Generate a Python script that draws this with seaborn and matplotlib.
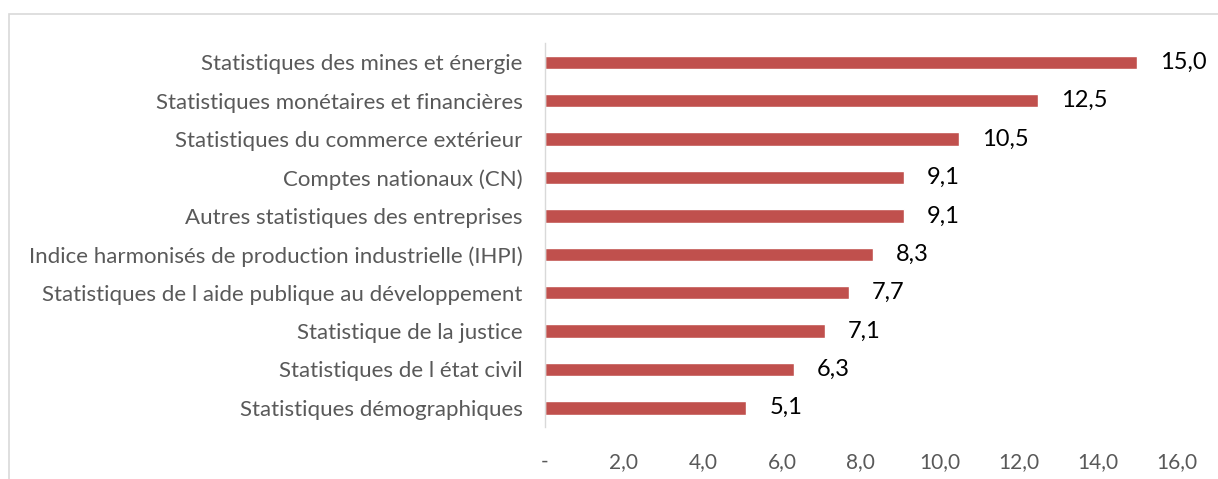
import matplotlib
matplotlib.use("Agg")
import matplotlib.pyplot as plt
import seaborn as sns
import pandas as pd
from matplotlib.patches import Rectangle

categories = [
    "Statistiques des mines et énergie",
    "Statistiques monétaires et financières",
    "Statistiques du commerce extérieur",
    "Comptes nationaux (CN)",
    "Autres statistiques des entreprises",
    "Indice harmonisés de production industrielle (IHPI)",
    "Statistiques de l aide publique au développement",
    "Statistique de la justice",
    "Statistiques de l état civil",
    "Statistiques démographiques",
]
values = [15.0, 12.5, 10.5, 9.1, 9.1, 8.3, 7.7, 7.1, 6.3, 5.1]
xticks = [0, 2, 4, 6, 8, 10, 12, 14, 16]
xtick_labels = ["-", "2,0", "4,0", "6,0", "8,0", "10,0", "12,0", "14,0", "16,0"]

df = pd.DataFrame({"categorie": categories, "valeur": values})

sns.set_theme(style="white")
plt.rcParams["font.family"] = ["Lato", "DejaVu Sans"]

fig = plt.figure(figsize=(12.18, 4.79), dpi=100)
ax = fig.add_axes([0.4475, 0.1086, 0.966 - 0.4475, 0.910 - 0.1086])

sns.barplot(data=df, x="valeur", y="categorie", orient="h",
            color="#C0504D", width=0.35, saturation=1, ax=ax)

ax.set_xlim(0, 16)
ax.set_ylim(9.5, -0.5)
ax.set_xticks(xticks)
ax.set_xticklabels(xtick_labels, color="#595959", fontsize=15)
ax.tick_params(axis="y", labelsize=16, labelcolor="#595959", length=0, pad=16)
ax.tick_params(axis="x", length=0, pad=18)
ax.set_xlabel("")
ax.set_ylabel("")

for s in ["top", "right", "bottom"]:
    ax.spines[s].set_visible(False)
ax.spines["left"].set_color("#D9D9D9")
ax.spines["left"].set_linewidth(1)

for i, v in enumerate(values):
    ax.text(v + 0.58, i, f"{v:.1f}".replace(".", ","), va="center", ha="left",
            fontsize=17, color="black")

frame = Rectangle((9 / 1218, -0.1), 1.2, 1 - 14 / 479 + 0.1,
                  transform=fig.transFigure, fill=False,
                  edgecolor="#D9D9D9", linewidth=1.2)
fig.patches.append(frame)

fig.savefig("out.png", dpi=100)
